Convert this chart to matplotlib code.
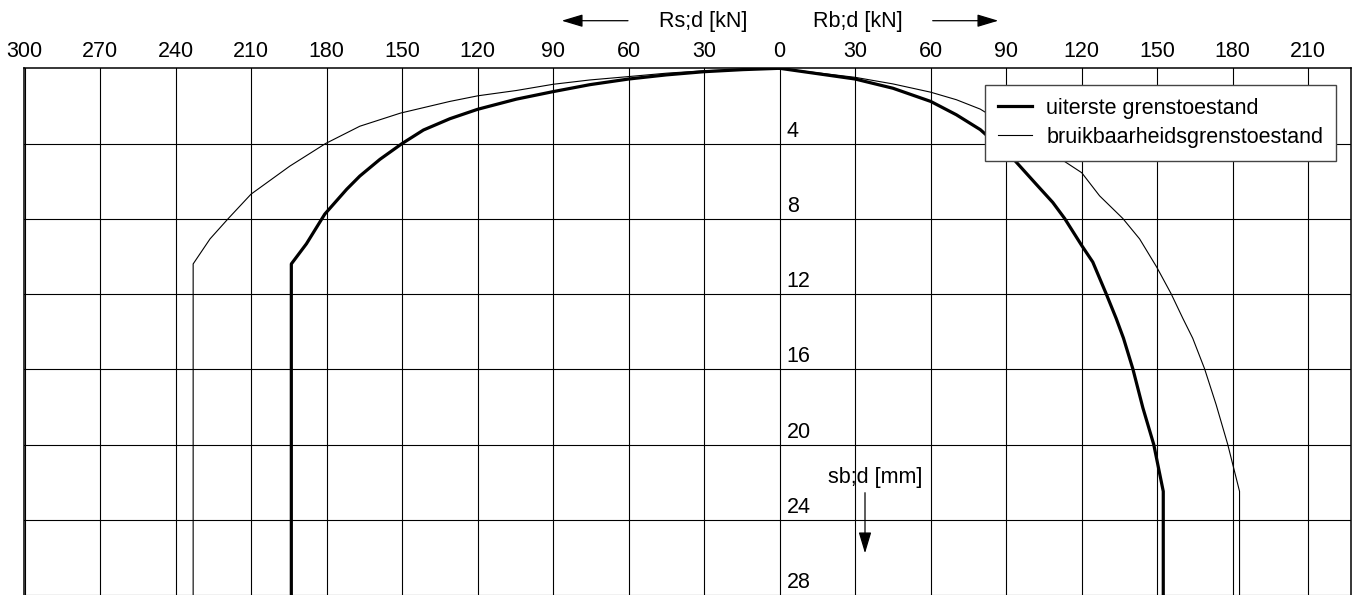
"""Load-settlement diagram: shaft resistance (left) and base resistance (right)
against pile head settlement, for ultimate and serviceability limit states."""
import matplotlib

matplotlib.use("Agg")
import matplotlib.pyplot as plt
from matplotlib.patches import ArrowStyle

plt.rcParams["font.family"] = ["Liberation Sans", "DejaVu Sans"]

# --- data ------------------------------------------------------------------
# shaft resistance Rs;d [kN] vs settlement sb;d [mm]
shaft_uls_s = [0.0, 0.07, 0.18, 0.35, 0.57, 0.87, 1.24, 1.64, 2.18, 2.68, 3.28, 4.0,
               4.84, 5.73, 6.43, 7.75, 9.33, 10.4, 30.0]
shaft_uls_r = [0.0, 14.6, 30.0, 45.0, 60.0, 75.4, 90.0, 104.6, 120.0, 131.0, 141.5, 150.0,
               158.8, 166.8, 172.0, 180.7, 188.0, 194.0, 194.0]

shaft_sls_s = [0.0, 0.13, 0.26, 0.44, 0.62, 0.85, 1.18, 1.46, 1.76, 2.38, 3.08, 4.0,
               5.2, 6.69, 7.98, 9.07, 10.4, 30.0]
shaft_sls_r = [0.0, 30.0, 45.0, 60.0, 75.4, 90.0, 104.6, 119.8, 131.0, 150.6, 166.8, 180.4,
               194.6, 210.0, 219.0, 226.3, 233.0, 233.0]

# base resistance Rb;d [kN] vs settlement sb;d [mm]
base_uls_s = [0.0, 0.57, 1.06, 1.76, 2.47, 3.26, 4.84, 6.16, 7.13, 7.98, 9.42, 10.3,
              11.98, 13.3, 14.35, 15.97, 18.05, 19.99, 22.49, 30.0]
base_uls_r = [0.0, 30.0, 45.0, 60.0, 70.2, 79.7, 93.0, 101.9, 108.5, 113.2, 120.0, 124.4,
              129.7, 133.7, 136.6, 140.3, 144.3, 148.6, 152.4, 152.4]

base_sls_s = [0.0, 0.48, 0.83, 1.27, 1.67, 2.17, 4.84, 5.55, 6.78, 7.98, 9.07, 10.57,
              11.98, 13.3, 14.35, 15.97, 17.88, 19.99, 22.49, 30.0]
base_sls_r = [0.0, 30.0, 45.0, 60.0, 70.2, 79.7, 111.9, 120.0, 127.1, 136.3, 143.0, 149.8,
              155.5, 160.2, 164.1, 168.8, 173.4, 178.0, 182.7, 182.7]

x_ticks = [-300, -270, -240, -210, -180, -150, -120, -90, -60, -30, 0, 30, 60, 90, 120, 150, 180, 210]
y_ticks = [4, 8, 12, 16, 20, 24, 28]

labels = ["uiterste grenstoestand", "bruikbaarheidsgrenstoestand"]

W, H = 1353, 595
FS = 15.5


def arrow(ax, tail, head):
    """Thin shaft with a filled head, coordinates in figure pixels."""
    style = ArrowStyle("-|>", head_length=1.0, head_width=0.3)
    ax.annotate(
        "", xy=head, xytext=tail,
        xycoords="figure pixels", textcoords="figure pixels",
        arrowprops=dict(arrowstyle=style, mutation_scale=13, color="black",
                        lw=0.9, shrinkA=0, shrinkB=0),
    )


def build():
    fig = plt.figure(figsize=(W / 100, H / 100), dpi=100)
    ax = fig.add_axes([24 / W, 0, (1351.3 - 24) / W, (H - 68.3) / H])

    ax.plot([-r for r in shaft_uls_r], shaft_uls_s, color="black", lw=2.3,
            solid_joinstyle="round", label=labels[0], zorder=3)
    ax.plot(base_uls_r, base_uls_s, color="black", lw=2.3,
            solid_joinstyle="round", zorder=3)
    ax.plot([-r for r in shaft_sls_r], shaft_sls_s, color="black", lw=0.8,
            label=labels[1], zorder=3)
    ax.plot(base_sls_r, base_sls_s, color="black", lw=0.8, zorder=3)

    ax.set_xlim(-300.2, 227.1)
    ax.set_ylim(27.82, 0)

    ax.xaxis.tick_top()
    ax.set_xticks(x_ticks)
    ax.set_xticklabels([str(abs(v)) for v in x_ticks])
    ax.tick_params(axis="x", length=0, labelsize=FS, pad=4.5)
    ax.set_yticks(y_ticks)
    ax.tick_params(axis="y", length=0, labelleft=False)
    ax.grid(True, color="black", lw=0.8, zorder=1)

    for v in y_ticks:
        ax.annotate(str(v), xy=(0, v), xytext=(7, 7), textcoords="offset pixels",
                    fontsize=FS, ha="left", va="baseline", zorder=2)

    for side in ("top", "left", "right"):
        ax.spines[side].set_linewidth(1.1)
    ax.spines["bottom"].set_visible(False)

    leg = ax.legend(
        loc="upper right", bbox_to_anchor=((1336 - 24) / 1327.3, (H - 85) / (H - 68.3)),
        borderaxespad=0, fontsize=FS, frameon=True, fancybox=False,
        framealpha=1, edgecolor="#444444", handlelength=1.6, handletextpad=0.65,
        labelspacing=0.36, borderpad=0.6,
    )
    leg.get_frame().set_linewidth(1.0)
    leg.set_zorder(5)

    # axis captions with direction arrows
    fig.text(659 / W, (H - 26.7) / H, "Rs;d [kN]", fontsize=FS, ha="left", va="baseline")
    fig.text(812.7 / W, (H - 26.7) / H, "Rb;d [kN]", fontsize=FS, ha="left", va="baseline")
    arrow(ax, (628, H - 20.7), (561.7, H - 20.7))
    arrow(ax, (932.7, H - 20.7), (998.3, H - 20.7))

    fig.text(828.3 / W, (H - 483.3) / H, "sb;d [mm]", fontsize=FS, ha="left", va="baseline")
    arrow(ax, (865, H - 492.7), (865, H - 553.3))

    fig.savefig("out.png", dpi=100)
    plt.close(fig)


if __name__ == "__main__":
    build()
